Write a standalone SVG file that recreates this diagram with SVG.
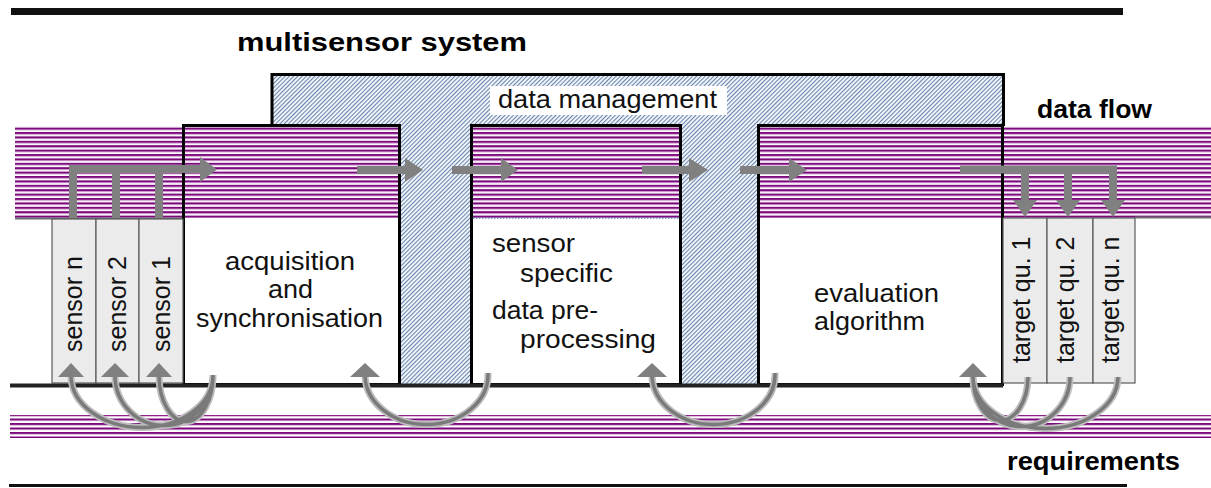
<svg xmlns="http://www.w3.org/2000/svg" width="1211" height="488" viewBox="0 0 1211 488">
<defs>
<pattern id="stripes" patternUnits="userSpaceOnUse" width="10" height="4.4">
<rect width="10" height="4.4" fill="#ffffff"/>
<rect y="0" width="10" height="1.8" fill="#7c0a7c"/>
<rect y="1.8" width="10" height="1" fill="#c48bc4"/>
</pattern>
<pattern id="reqstripes" patternUnits="userSpaceOnUse" width="10" height="4.5">
<rect width="10" height="4.5" fill="#ffffff"/>
<rect y="0" width="10" height="1.9" fill="#7c0a7c"/>
<rect y="1.9" width="10" height="0.6" fill="#c48bc4"/>
</pattern>
<pattern id="hatch" patternUnits="userSpaceOnUse" width="4" height="3" patternTransform="rotate(-45)">
<rect width="4" height="3" fill="#f7f9fc"/>
<rect width="4" height="1.1" fill="#6885ae"/>
</pattern>
<style>
.box{fill:none;stroke:#000;stroke-width:3}
.white{fill:#fff}
.cell{fill:#ebebeb;stroke:#5a5a5a;stroke-width:1.2}
.lbl{font-family:"Liberation Sans",Arial,sans-serif;font-size:25px;fill:#111}
.bold{font-weight:bold;fill:#000}
.flow{stroke:#808080;fill:none;stroke-width:8;stroke-linejoin:miter}
.head{fill:#808080}
.arcO{stroke:#bcbcbc;stroke-width:7;fill:none}
.arcI{stroke:#7a7a7a;stroke-width:3.5;fill:none}
</style>
</defs>
<rect width="1211" height="488" fill="#fff"/>
<g id="frame">
<rect x="11" y="8" width="1112" height="7" fill="#111"/>
<rect x="9" y="484" width="1118" height="3" fill="#111"/>
</g>
<g id="dataflow-band">
<rect x="15" y="126" width="1196" height="92" fill="url(#stripes)"/>
<line x1="15" y1="218.5" x2="183" y2="218.5" stroke="#6e6e6e" stroke-width="2"/>
<line x1="1135" y1="217.5" x2="1211" y2="217.5" stroke="#6e6e6e" stroke-width="2"/>
<text class="lbl bold" x="1037" y="118" font-size="22" textLength="115" lengthAdjust="spacingAndGlyphs">data flow</text>
</g>
<g id="requirements-band">
<rect x="10" y="415" width="1201" height="23" fill="url(#reqstripes)"/>
<text class="lbl bold" x="1007" y="470" font-size="23" textLength="173" lengthAdjust="spacingAndGlyphs">requirements</text>
</g>
<g id="title">
<text class="lbl bold" x="237" y="51" font-size="24" textLength="290" lengthAdjust="spacingAndGlyphs">multisensor system</text>
</g>
<g id="data-management">
<path d="M272,74 H1003 V125 H757 V385 H681 V125 H470 V385 H400 V125 H272 Z" fill="url(#hatch)"/>
<path d="M272,126 V74.5 H1003.5 V126" fill="none" stroke="#000" stroke-width="3"/>
<rect x="490" y="86" width="237" height="29" fill="#fff"/>
<text class="lbl" x="498" y="108" textLength="219" lengthAdjust="spacingAndGlyphs">data management</text>
</g>
<g id="acquisition">
<rect class="white" x="183" y="218" width="217" height="167"/>
<rect class="box" x="183.5" y="125.5" width="216" height="259"/>
<text class="lbl" x="225" y="270" textLength="130" lengthAdjust="spacingAndGlyphs">acquisition</text>
<text class="lbl" x="268" y="298" textLength="45" lengthAdjust="spacingAndGlyphs">and</text>
<text class="lbl" x="196" y="327" textLength="187" lengthAdjust="spacingAndGlyphs">synchronisation</text>
</g>
<g id="preprocessing">
<rect class="white" x="470" y="218" width="211" height="167"/>
<line x1="473" y1="218" x2="680" y2="218" stroke="#6281ab" stroke-width="1.5" stroke-dasharray="1.5,1.5"/>
<rect class="box" x="471.5" y="125.5" width="209" height="259"/>
<text class="lbl" x="492" y="252" textLength="83" lengthAdjust="spacingAndGlyphs">sensor</text>
<text class="lbl" x="520" y="282" textLength="93" lengthAdjust="spacingAndGlyphs">specific</text>
<text class="lbl" x="492" y="319" textLength="106" lengthAdjust="spacingAndGlyphs">data pre-</text>
<text class="lbl" x="520" y="348" textLength="136" lengthAdjust="spacingAndGlyphs">processing</text>
</g>
<g id="evaluation">
<rect class="white" x="757" y="218" width="246" height="167"/>
<rect class="box" x="758.5" y="125.5" width="244" height="259"/>
<text class="lbl" x="814" y="302" textLength="125" lengthAdjust="spacingAndGlyphs">evaluation</text>
<text class="lbl" x="814" y="330" textLength="111" lengthAdjust="spacingAndGlyphs">algorithm</text>
</g>
<g id="sensors">
<rect class="cell" x="52" y="219" width="44" height="164"/>
<rect class="cell" x="96" y="219" width="43" height="164"/>
<rect class="cell" x="139" y="219" width="44" height="164"/>
<text class="lbl" transform="translate(82,352) rotate(-90)">sensor n</text>
<text class="lbl" transform="translate(126,352) rotate(-90)">sensor 2</text>
<text class="lbl" transform="translate(170,352) rotate(-90)">sensor 1</text>
</g>
<g id="targets">
<rect class="cell" x="1003" y="218" width="44" height="165"/>
<rect class="cell" x="1047" y="218" width="46" height="165"/>
<rect class="cell" x="1093" y="218" width="42" height="165"/>
<text class="lbl" transform="translate(1030,363) rotate(-90)">target qu. 1</text>
<text class="lbl" transform="translate(1074,363) rotate(-90)">target qu. 2</text>
<text class="lbl" transform="translate(1119,363) rotate(-90)">target qu. n</text>
</g>
<g id="baseline">
<line x1="10" y1="385.5" x2="1003" y2="385.5" stroke="#222" stroke-width="4"/>
</g>
<g id="connectors">
<path class="flow" d="M73,218 V169 H204 M116,218 V169 M159,218 V169"/>
<polygon class="head" points="200,157 217,169.5 200,182"/>
<path class="flow" d="M357,170 H407"/>
<polygon class="head" points="405,158 423,170 405,182"/>
<path class="flow" d="M452,170 H503"/>
<polygon class="head" points="501,158 518,170 501,182"/>
<path class="flow" d="M642,170 H691"/>
<polygon class="head" points="689,158 708,170 689,182"/>
<path class="flow" d="M740,170 H791"/>
<polygon class="head" points="789,158 807,170 789,182"/>
<path class="flow" d="M960,169.5 H1113 V201 M1025,169.5 V201 M1068,169.5 V201" stroke-width="7"/>
<polygon class="head" points="1013,200 1037,200 1025,217"/>
<polygon class="head" points="1056,200 1080,200 1068,217"/>
<polygon class="head" points="1101,200 1125,200 1113,217"/>
<g id="req-arcs">
<path class="arcO" d="M213,375 A71,52 0 0 1 71,376 M213,375 A49,50 0 0 1 115,376 M213,375 A27,46 0 0 1 159,376 M488,373 A61.5,50 0 0 1 365,376 M775,373 A61.5,50 0 0 1 652,376 M1028,377 A27.5,44 0 0 1 973,376 M1070,377 A48.5,50 0 0 1 973,376 M1118,377 A72.5,52 0 0 1 973,376"/>
<path class="arcI" d="M213,375 A71,52 0 0 1 71,376 M213,375 A49,50 0 0 1 115,376 M213,375 A27,46 0 0 1 159,376 M488,373 A61.5,50 0 0 1 365,376 M775,373 A61.5,50 0 0 1 652,376 M1028,377 A27.5,44 0 0 1 973,376 M1070,377 A48.5,50 0 0 1 973,376 M1118,377 A72.5,52 0 0 1 973,376"/>
<polygon class="head" points="58,377 71,363 84,377"/>
<polygon class="head" points="101,377 115,363 129,377"/>
<polygon class="head" points="146,377 159,363 172,377"/>
<polygon class="head" points="350,377 365,363 380,377"/>
<polygon class="head" points="637,377 652,363 667,377"/>
<polygon class="head" points="959,377 973,363 987,377"/>
</g>
</g>
</svg>
